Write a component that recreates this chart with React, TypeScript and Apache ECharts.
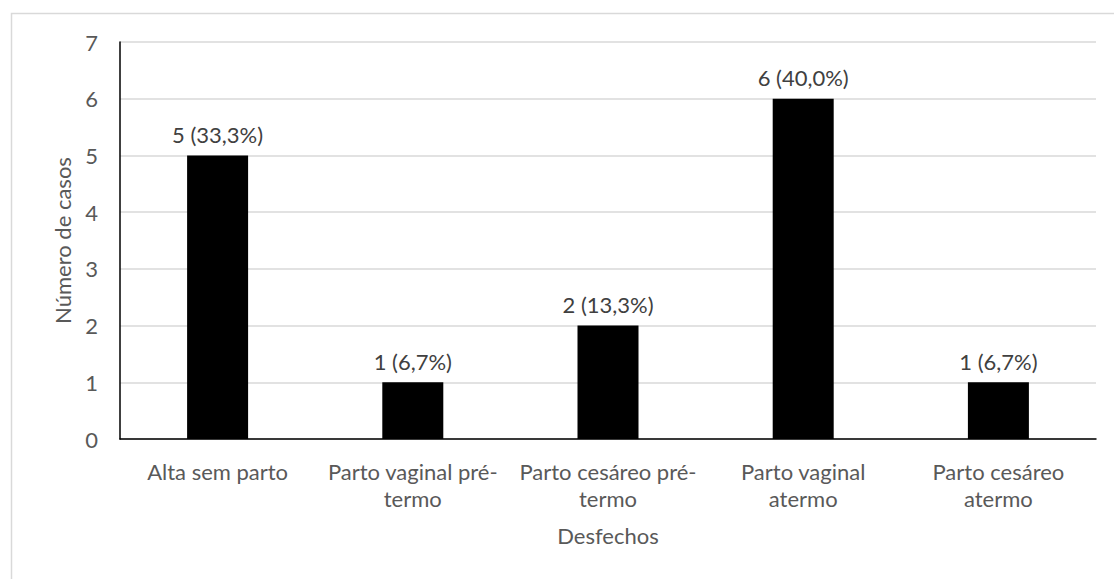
import React, { useEffect, useRef } from "react";
import * as echarts from "echarts";

const categories = [
  "Alta sem parto",
  "Parto vaginal pré-\ntermo",
  "Parto cesáreo pré-\ntermo",
  "Parto vaginal\natermo",
  "Parto cesáreo\natermo",
];
const casos = [5, 1, 2, 6, 1];
const percentuais = ["33,3%", "6,7%", "13,3%", "40,0%", "6,7%"];
const yTicks = { min: 0, max: 7, interval: 1 };
const xTitle = "Desfechos";
const yTitle = "Número de casos";

const FONT = "Lato, 'Open Sans', sans-serif";

export default function App() {
  const ref = useRef<HTMLDivElement>(null);
  useEffect(() => {
    if (!ref.current) return;
    const chart = echarts.init(ref.current, undefined, { renderer: "svg" });
    chart.setOption({
      animation: false,
      backgroundColor: "#ffffff",
      textStyle: { fontFamily: FONT },
      graphic: [
        {
          type: "rect",
          shape: { x: 11.5, y: 13.5, width: 1300, height: 1000 },
          style: { fill: "none", stroke: "#d9d9d9", lineWidth: 1.5 },
          silent: true,
        },
      ],
      grid: { left: 120, right: 18, top: 42, bottom: 140, containLabel: false },
      xAxis: {
        type: "category",
        data: categories,
        name: xTitle,
        nameLocation: "middle",
        nameGap: 85,
        nameTextStyle: { fontSize: 22, color: "#595959", fontFamily: FONT },
        axisLine: { lineStyle: { color: "#000000", width: 1.5 } },
        axisTick: { show: false },
        axisLabel: {
          fontSize: 22,
          color: "#595959",
          margin: 19,
          lineHeight: 27,
          interval: 0,
          fontFamily: FONT,
        },
      },
      yAxis: {
        type: "value",
        min: yTicks.min,
        max: yTicks.max,
        interval: yTicks.interval,
        name: yTitle,
        nameLocation: "middle",
        nameGap: 47,
        nameRotate: 90,
        nameTextStyle: { fontSize: 22, color: "#595959", fontFamily: FONT },
        axisLine: { show: true, lineStyle: { color: "#000000", width: 1.5 } },
        axisTick: { show: false },
        axisLabel: { fontSize: 22, color: "#595959", margin: 22, fontFamily: FONT },
        splitLine: { lineStyle: { color: "#d9d9d9", width: 1.5 } },
      },
      series: [
        {
          type: "bar",
          data: casos,
          barWidth: 61,
          itemStyle: { color: "#000000" },
          label: {
            show: true,
            position: "top",
            distance: 10,
            fontSize: 22,
            color: "#404040",
            fontFamily: FONT,
            formatter: (p: any) => `${p.value} (${percentuais[p.dataIndex]})`,
          },
        },
      ],
    });
    return () => chart.dispose();
  }, []);
  return (
    <div
      ref={ref}
      style={{ position: "fixed", left: 0, top: 0, width: 1114, height: 579 }}
    />
  );
}
